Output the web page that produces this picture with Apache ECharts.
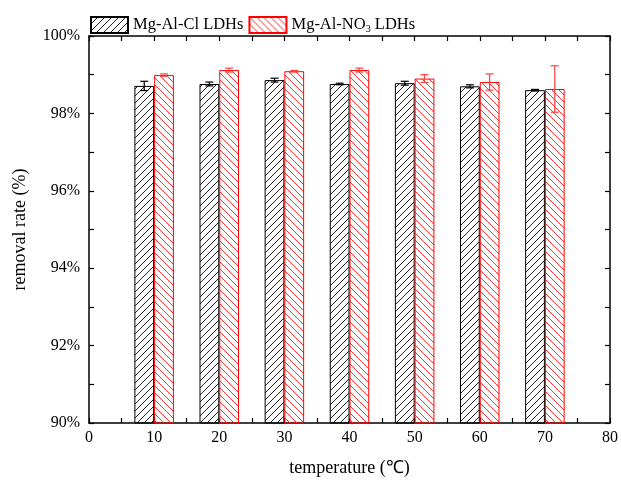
<!DOCTYPE html>
<html>
<head>
<meta charset="utf-8">
<script src="https://cdn.jsdelivr.net/npm/echarts@6/dist/echarts.min.js"></script>
<style>html,body{margin:0;padding:0;background:#fff;}#c{width:621px;height:482px;}</style>
</head>
<body>
<div id="c"></div>
<script>
const temperatures = [10, 20, 30, 40, 50, 60, 70];
const clValues = [98.71, 98.76, 98.86, 98.76, 98.78, 98.70, 98.60];
const clErrors = [0.12, 0.05, 0.05, 0.02, 0.05, 0.04, 0.02];
const no3Values = [98.99, 99.12, 99.09, 99.12, 98.90, 98.81, 98.63];
const no3Errors = [0.03, 0.05, 0.02, 0.05, 0.10, 0.21, 0.60];
const seriesNames = ['Mg-Al-Cl LDHs', 'Mg-Al-NO3 LDHs'];
const xTicks = [0, 10, 20, 30, 40, 50, 60, 70, 80];
const yTicks = [90, 92, 94, 96, 98, 100];

function hatch(color, forward) {
  const s = 7;
  const c = document.createElement('canvas');
  c.width = s; c.height = s;
  const g = c.getContext('2d');
  g.strokeStyle = color; g.lineWidth = 1;
  g.beginPath();
  if (forward) {
    g.moveTo(0, s); g.lineTo(s, 0);
    g.moveTo(-1, 1); g.lineTo(1, -1);
    g.moveTo(s - 1, s + 1); g.lineTo(s + 1, s - 1);
  } else {
    g.moveTo(0, 0); g.lineTo(s, s);
    g.moveTo(-1, s - 1); g.lineTo(1, s + 1);
    g.moveTo(s - 1, -1); g.lineTo(s + 1, 1);
  }
  g.stroke();
  return { image: c, repeat: 'repeat' };
}

const font = 'Liberation Serif';
const barW = 19.75;
const chart = echarts.init(document.getElementById('c'));

function errSeries(vals, errs, color, sign) {
  return {
    type: 'custom',
    xAxisIndex: 0, yAxisIndex: 0,
    z: 5,
    silent: true,
    data: temperatures.map((t, i) => [t, vals[i], errs[i]]),
    renderItem: function (params, api) {
      const x = api.value(0), y = api.value(1), e = api.value(2);
      const hi = api.coord([x, y + e]);
      const lo = api.coord([x, y - e]);
      const cx = hi[0] + sign * barW / 2;
      const cap = 4;
      const st = { stroke: color, lineWidth: 1.2 };
      return {
        type: 'group',
        children: [
          { type: 'line', shape: { x1: cx, y1: hi[1], x2: cx, y2: lo[1] }, style: st },
          { type: 'line', shape: { x1: cx - cap, y1: hi[1], x2: cx + cap, y2: hi[1] }, style: st },
          { type: 'line', shape: { x1: cx - cap, y1: lo[1], x2: cx + cap, y2: lo[1] }, style: st }
        ]
      };
    }
  };
}

const axisCommon = {
  axisLine: { show: true, onZero: false, lineStyle: { color: '#000', width: 1.5 } },
  axisTick: { show: true, inside: true, length: 5, lineStyle: { color: '#000', width: 1.2 } },
  minorTick: { show: true, splitNumber: 2, length: 5, lineStyle: { color: '#000', width: 1.2 } },
  splitLine: { show: false }
};

chart.setOption({
  animation: false,
  backgroundColor: '#fff',
  textStyle: { fontFamily: font },
  legend: {
    left: 85, top: 11,
    itemWidth: 37, itemHeight: 16, itemGap: 5,
    data: seriesNames,
    icon: 'rect',
    formatter: function (n) { return n === 'Mg-Al-NO3 LDHs' ? 'Mg-Al-NO{sub|3} LDHs' : n; },
    textStyle: {
      fontFamily: font, fontSize: 16.5, color: '#000',
      rich: { sub: { fontFamily: font, fontSize: 10, padding: [8, 0, 0, 0], color: '#000' } }
    }
  },
  grid: { left: 89, right: 5, top: 36, bottom: 58 },
  xAxis: [
    Object.assign({
      type: 'value', min: xTicks[0], max: xTicks[xTicks.length - 1], interval: 10, position: 'bottom',
      name: 'temperature (℃)', nameLocation: 'middle', nameGap: 36,
      nameTextStyle: { fontFamily: font, fontSize: 18, color: '#000' },
      axisLabel: { fontFamily: font, fontSize: 16, color: '#000', margin: 7 }
    }, axisCommon),
    Object.assign({
      type: 'value', min: xTicks[0], max: xTicks[xTicks.length - 1], interval: 10, position: 'top',
      axisLabel: { show: false }
    }, axisCommon)
  ],
  yAxis: [
    Object.assign({
      type: 'value', min: yTicks[0], max: yTicks[yTicks.length - 1], interval: 2, position: 'left',
      name: 'removal rate (%)', nameLocation: 'middle', nameGap: 60, nameRotate: 90,
      nameTextStyle: { fontFamily: font, fontSize: 18, color: '#000' },
      axisLabel: { fontFamily: font, fontSize: 16, color: '#000', margin: 9, formatter: '{value}%' }
    }, axisCommon),
    Object.assign({
      type: 'value', min: yTicks[0], max: yTicks[yTicks.length - 1], interval: 2, position: 'right',
      axisLabel: { show: false }
    }, axisCommon)
  ],
  series: [
    {
      name: seriesNames[0], type: 'bar', xAxisIndex: 0, yAxisIndex: 0,
      barWidth: barW, barGap: '0%',
      data: temperatures.map((t, i) => [t, clValues[i]]),
      itemStyle: { color: hatch('#222', true), borderColor: '#000', borderWidth: 1 }
    },
    {
      name: seriesNames[1], type: 'bar', xAxisIndex: 0, yAxisIndex: 0,
      barWidth: barW, barGap: '0%',
      data: temperatures.map((t, i) => [t, no3Values[i]]),
      itemStyle: { color: hatch('#ff3030', false), borderColor: '#f00', borderWidth: 1 }
    },
    errSeries(clValues, clErrors, '#000', -1),
    errSeries(no3Values, no3Errors, '#ff4040', 1)
  ]
});
</script>
</body>
</html>
